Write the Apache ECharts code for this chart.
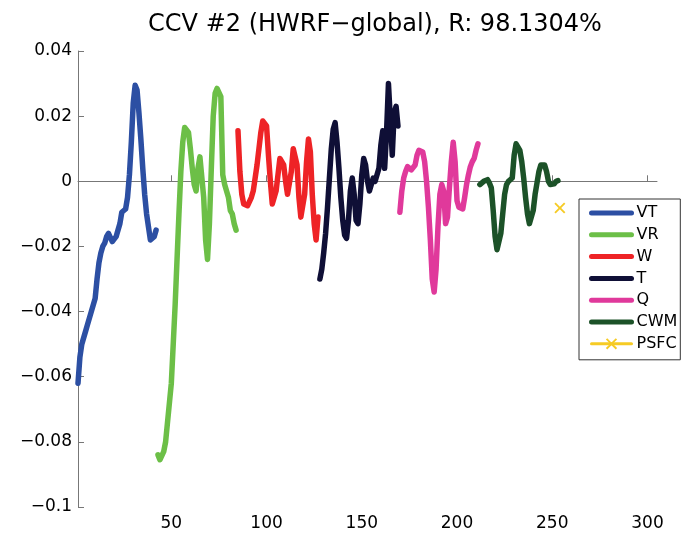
<!DOCTYPE html>
<html>
<head>
<meta charset="utf-8">
<script src="https://cdn.jsdelivr.net/npm/echarts@6/dist/echarts.min.js"></script>
<style>
html,body{margin:0;padding:0;background:#fff;}
#chart{width:687px;height:535px;}
</style>
</head>
<body>
<div id="chart"></div>
<script>
// ---- data ----
const titleText = 'CCV #2 (HWRF\u2212global), R: 98.1304%';
const seriesNames = ['VT', 'VR', 'W', 'T', 'Q', 'CWM', 'PSFC'];
const xTicks = [50, 100, 150, 200, 250, 300];
const yTicks = [-0.1, -0.08, -0.06, -0.04, -0.02, 0, 0.02, 0.04];
// first x index of each variable block
const startIndex = [1, 43, 85, 128, 170, 212, 254];

const vt = [-0.062, -0.054, -0.050, -0.048, -0.046, -0.044, -0.042, -0.040, -0.038, -0.036,
  -0.030, -0.025, -0.022, -0.020, -0.019, -0.017, -0.016, -0.0165, -0.0185, -0.0185,
  -0.017, -0.015, -0.013, -0.0095, -0.009, -0.0085, -0.005, 0.002, 0.012, 0.024,
  0.0295, 0.028, 0.021, 0.013, 0.004, -0.004, -0.010, -0.014, -0.018, -0.0185,
  -0.017, -0.015];
const vr = [-0.084, -0.0855, -0.0855, -0.083, -0.080, -0.074, -0.068, -0.062, -0.050, -0.038,
  -0.024, -0.010, 0.003, 0.012, 0.0165, 0.017, 0.015, 0.010, 0.004, -0.001,
  -0.003, 0.004, 0.0075, 0.007, -0.005, -0.018, -0.024, -0.013, 0.004, 0.020,
  0.027, 0.0285, 0.0285, 0.026, 0.002, -0.001, -0.0015, -0.005, -0.009, -0.010,
  -0.013, -0.015];
const w = [0.0155, 0.003, -0.004, -0.007, -0.0075, -0.0075, -0.007, -0.005, -0.003, 0.001,
  0.005, 0.010, 0.015, 0.0185, 0.019, 0.017, 0.008, 0.000, -0.007, -0.007,
  -0.003, 0.002, 0.007, 0.0075, 0.005, 0.000, -0.004, -0.004, 0.003, 0.010,
  0.0105, 0.005, -0.005, -0.011, -0.011, -0.004, 0.006, 0.013, 0.009, -0.004,
  -0.013, -0.018, -0.011];
const t = [-0.030, -0.027, -0.022, -0.016, -0.008, 0.001, 0.010, 0.016, 0.018, 0.012,
  0.004, -0.005, -0.012, -0.0165, -0.0175, -0.012, -0.003, 0.001, -0.004, -0.012,
  -0.013, -0.007, 0.002, 0.007, 0.005, 0.000, -0.003, -0.001, 0.001, 0.000,
  0.002, 0.004, 0.011, 0.0155, 0.004, 0.015, 0.030, 0.019, 0.008, 0.021,
  0.023, 0.017];
const q = [-0.0095, -0.003, 0.001, 0.003, 0.0045, 0.004, 0.0035, 0.003, 0.005, 0.008,
  0.0095, 0.010, 0.009, 0.006, 0.000, -0.008, -0.018, -0.030, -0.034, -0.027,
  -0.014, -0.004, -0.001, -0.003, -0.013, -0.011, -0.002, 0.006, 0.012, 0.006,
  -0.006, -0.008, -0.008, -0.0085, -0.005, -0.001, 0.002, 0.0045, 0.006, 0.007,
  0.0095, 0.0115];
const cwm = [-0.001, -0.0005, 0.000, 0.0005, 0.0005, -0.0005, -0.002, -0.009, -0.017, -0.021,
  -0.0215, -0.016, -0.010, -0.004, -0.001, 0.000, 0.000, 0.001, 0.008, 0.0115,
  0.0105, 0.0095, 0.006, 0.001, -0.005, -0.010, -0.013, -0.0135, -0.009, -0.004,
  -0.0005, 0.003, 0.005, 0.0055, 0.005, 0.003, 0.000, -0.001, -0.0012, -0.0008,
  0.000, 0.0002];
const psfc = [-0.0082];

const seriesValues = [vt, vr, w, t, q, cwm, psfc];
const colors = ['#2c4fa3', '#6cbf47', '#ee2326', '#0f0f36', '#e0399b', '#1c5228', '#f6cb25'];

// ---- chart ----
const xMark = 'path://M0,2.4 L2.4,0 L10,7.6 L17.6,0 L20,2.4 L12.4,10 L20,17.6 L17.6,20 L10,12.4 L2.4,20 L0,17.6 L7.6,10 Z';

const series = seriesValues.map((vals, k) => {
  const data = vals.map((v, i) => [startIndex[k] + i, v]);
  const isMarker = seriesNames[k] === 'PSFC';
  return {
    name: seriesNames[k],
    type: 'line',
    data: data,
    showSymbol: isMarker,
    symbol: xMark,
    symbolSize: isMarker ? 11 : 0,
    itemStyle: { color: colors[k] },
    lineStyle: { color: colors[k], width: isMarker ? 3 : 5.5, cap: 'round', join: 'round' },
    emphasis: { disabled: true },
    animation: false,
    z: 2 + k
  };
});

function fmt(v) {
  const a = parseFloat(Math.abs(v).toFixed(3));
  return (v < -1e-9 ? '\u2212' : '') + String(a);
}

const legendData = seriesNames.map((n, k) => ({
  name: n,
  itemStyle: { opacity: n === 'PSFC' ? 1 : 0 },
  lineStyle: { width: n === 'PSFC' ? 3 : 5, color: colors[k] }
}));

const chart = echarts.init(document.getElementById('chart'), null, { renderer: 'canvas' });
chart.setOption({
  animation: false,
  backgroundColor: '#ffffff',
  title: {
    text: titleText,
    left: 370,
    textAlign: 'center',
    top: 8,
    textStyle: { fontFamily: 'DejaVu Sans', fontSize: 24, fontWeight: 'normal', color: '#000' }
  },
  grid: { left: 78, right: 30, top: 51, bottom: 28, containLabel: false },
  legend: {
    orient: 'vertical',
    left: 579,
    top: 199,
    width: 99,
    padding: [6, 3, 8, 10],
    itemWidth: 40,
    itemHeight: 14,
    itemGap: 5.8,
    itemTextGap: 7,
    borderColor: '#333',
    borderWidth: 1,
    backgroundColor: '#fff',
    textStyle: { fontFamily: 'DejaVu Sans', fontSize: 16, color: '#000', lineHeight: 14 },
    data: legendData
  },
  xAxis: {
    type: 'value',
    min: 1,
    max: 305,
    axisLine: { show: true, lineStyle: { color: '#777', width: 1 } },
    axisTick: { show: true, inside: true, length: 6, customValues: xTicks, lineStyle: { color: '#777' } },
    axisLabel: { customValues: xTicks, fontFamily: 'DejaVu Sans', fontSize: 17, color: '#000', margin: 8 },
    splitLine: { show: false }
  },
  yAxis: {
    type: 'value',
    min: -0.1,
    max: 0.04,
    axisLine: { show: true, onZero: false, lineStyle: { color: '#777', width: 1 } },
    axisTick: { show: true, inside: true, length: 6, customValues: yTicks, lineStyle: { color: '#777' } },
    axisLabel: { customValues: yTicks, formatter: fmt, fontFamily: 'DejaVu Sans', fontSize: 17, color: '#000', margin: 6 },
    splitLine: { show: false }
  },
  series: series
});
</script>
</body>
</html>
